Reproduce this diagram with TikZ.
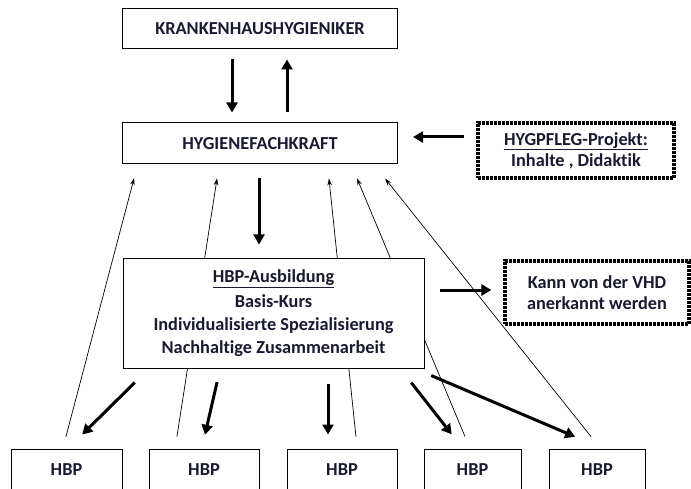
\documentclass[tikz,border=0pt]{standalone}
\usepackage{fontspec}
\setmainfont{Carlito}[Ligatures=NoCommon]
\usetikzlibrary{arrows.meta,positioning}
\definecolor{textnavy}{RGB}{25,25,50}

\begin{document}
\begin{tikzpicture}[
    x=1pt, y=-1pt,
    box/.style={
        rectangle, draw, line width=1pt, fill=white,
        align=center, text=textnavy, inner sep=2pt,
        font=\fontsize{18.3}{23}\selectfont\bfseries
    },
    notebox/.style={box, dash pattern=on 3pt off 1pt, line width=3.2pt},
    arrow/.style={-{Triangle[length=10pt,width=11pt]}, line width=3pt},
    thinarrow/.style={-{Stealth[length=7pt,width=4.5pt]}, line width=0.7pt}
]
\useasboundingbox (0,0) rectangle (691,489);

% Leitung
\node[box, minimum width=275pt, minimum height=40pt] (kh) at (260, 29) {KRANKENHAUSHYGIENIKER};
\node[box, minimum width=275pt, minimum height=41pt] (hfk) at (260, 143.5) {HYGIENEFACHKRAFT};
\node[notebox, minimum width=196pt, minimum height=55pt, font=\fontsize{18.3}{21}\selectfont\bfseries] (proj) at (576, 150.5) {\underline{HYGPFLEG-Projekt:}\\Inhalte , Didaktik};

% HBP (unten, abgeschnitten)
\node[box, minimum width=111pt, minimum height=42pt] (hbpa) at (66.5, 470) {HBP};
\node[box, minimum width=110pt, minimum height=42pt] (hbpb) at (204, 470) {HBP};
\node[box, minimum width=110pt, minimum height=42pt] (hbpc) at (342, 470) {HBP};
\node[box, minimum width=97pt, minimum height=42pt] (hbpd) at (472.5, 470) {HBP};
\node[box, minimum width=96pt, minimum height=42pt] (hbpe) at (597, 470) {HBP};

% Rueckmeldung HBP -> Hygienefachkraft
\draw[thinarrow, shorten <=12pt, shorten >=14pt] ([xshift=-3.7pt]hbpa.north) -- ([xshift=-122.3pt]hfk.south);
\draw[thinarrow, shorten <=12pt, shorten >=14pt] ([xshift=-28.9pt]hbpb.north) -- ([xshift=-40.8pt]hfk.south);
\draw[thinarrow, shorten <=12pt, shorten >=14pt] ([xshift=15.2pt]hbpc.north) -- ([xshift=67.5pt]hfk.south);
\draw[thinarrow, shorten <=13pt, shorten >=15pt] ([xshift=-2.5pt]hbpd.north) -- ([xshift=91.2pt]hfk.south);
\draw[thinarrow, shorten <=15pt, shorten >=18pt] ([xshift=3.5pt]hbpe.north) -- ([xshift=113.9pt]hfk.south);

% Ausbildung
\node[box, minimum width=301pt, minimum height=109pt] (ausb) at (273.5, 313.5) {\underline{HBP-Ausbildung}\\[2pt]Basis-Kurs\\Individualisierte Spezialisierung\\Nachhaltige Zusammenarbeit};
\node[notebox, minimum width=184pt, minimum height=63pt, font=\fontsize{18.3}{21}\selectfont\bfseries] (vhd) at (597, 292.5) {Kann von der VHD\\anerkannt werden};

% Pfeile
\draw[arrow, shorten <=10pt, shorten >=10pt] ([xshift=-28pt]kh.south) -- ([xshift=-28pt]hfk.north);
\draw[arrow, shorten <=10pt, shorten >=10pt] ([xshift=27pt]hfk.north) -- ([xshift=27pt]kh.south);
\draw[arrow, shorten <=12pt, shorten >=15pt] ([yshift=13.5pt]proj.west) -- ([yshift=6.5pt]hfk.east);
\draw[arrow, shorten <=14pt, shorten >=14pt] ([xshift=-1pt]hfk.south) -- ([xshift=-14.5pt]ausb.north);
\draw[arrow, shorten <=15pt, shorten >=12pt] ([yshift=23.5pt]ausb.east) -- ([yshift=2.5pt]vhd.west);

\draw[arrow, shorten <=20pt, shorten >=20pt] ([xshift=-124.5pt]ausb.south) -- ([xshift=1.5pt]hbpa.north);
\draw[arrow, shorten <=14pt, shorten >=14pt] ([xshift=-53.3pt]ausb.south) -- ([xshift=-2.2pt]hbpb.north);
\draw[arrow, shorten <=15pt, shorten >=14pt] ([xshift=54.5pt]ausb.south) -- ([xshift=-14pt]hbpc.north);
\draw[arrow, shorten <=18pt, shorten >=18pt] ([xshift=126.7pt]ausb.south) -- ([xshift=-9.7pt]hbpd.north);
\draw[arrow, shorten <=18pt, shorten >=30pt] ([xshift=141.2pt]ausb.south) -- ([xshift=5.8pt]hbpe.north);

\end{tikzpicture}
\end{document}
